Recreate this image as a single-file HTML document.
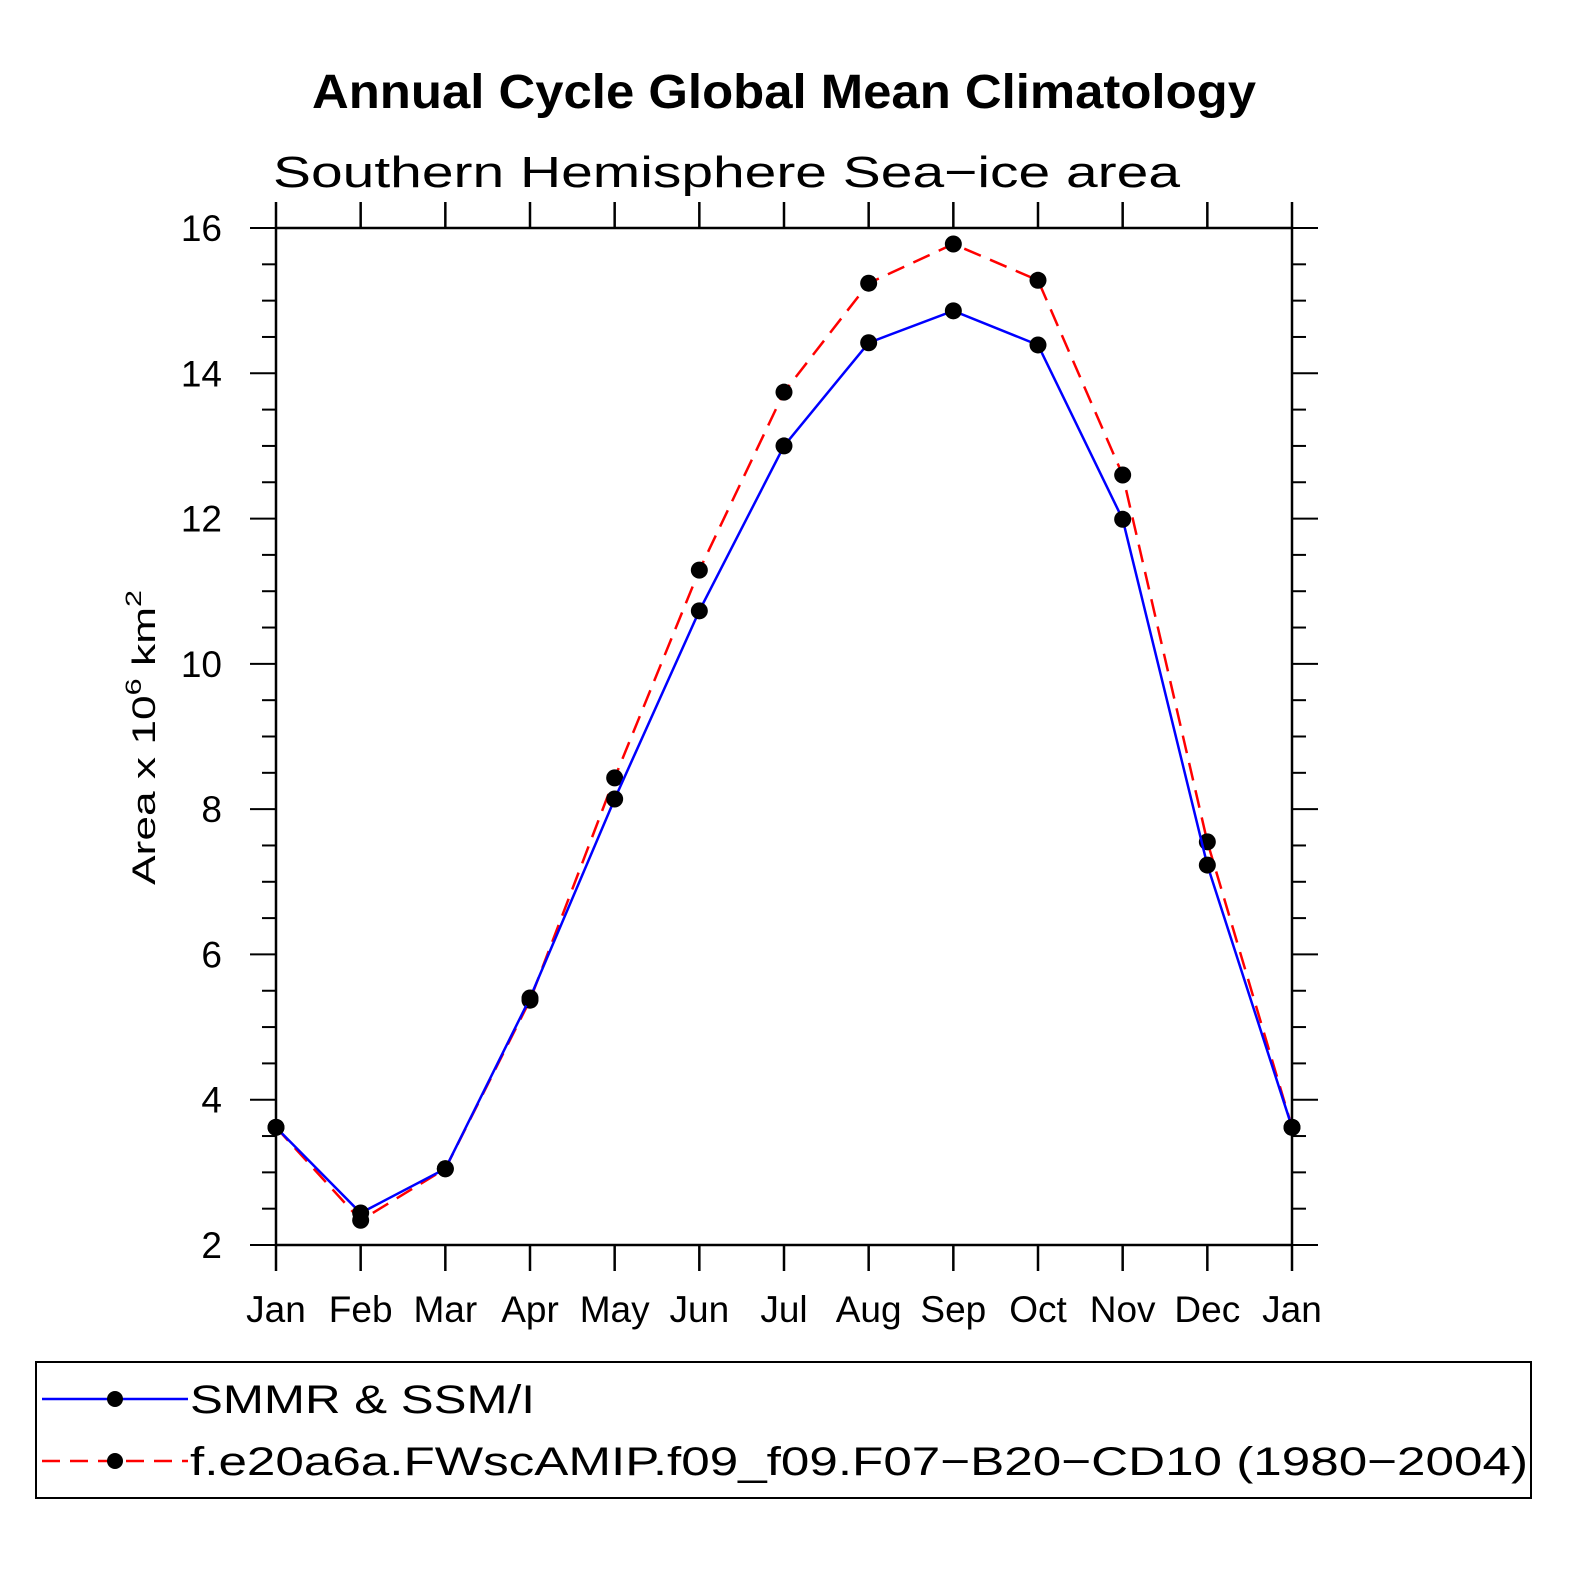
<!DOCTYPE html>
<html><head><meta charset="utf-8"><style>
body{margin:0;background:#fff}
svg{display:block}
text{font-family:"Liberation Sans",sans-serif}
</style></head><body>
<svg id="chart" width="1574" height="1574" viewBox="0 0 1574 1574">
<text x="312" y="108" font-size="48" font-weight="bold" textLength="944" lengthAdjust="spacingAndGlyphs">Annual Cycle Global Mean Climatology</text>
<text x="273" y="187" font-size="44" textLength="907" lengthAdjust="spacingAndGlyphs">Southern Hemisphere Sea−ice area</text>
<text transform="translate(155,885) rotate(-90)" font-size="32" textLength="295" lengthAdjust="spacingAndGlyphs">Area x 10<tspan dy="-14" font-size="22">6</tspan><tspan dy="14"> km</tspan><tspan dy="-14" font-size="22">2</tspan></text>
<g id="axes"></g>
<g id="series"></g>
<rect x="36" y="1362" width="1495" height="136" fill="none" stroke="#000" stroke-width="2"/>
<g>
<line x1="42" y1="1399" x2="188" y2="1399" stroke="#0000ff" stroke-width="2.5"/>
<circle cx="115" cy="1399" r="8"/>
<text x="190" y="1413" font-size="40" textLength="345" lengthAdjust="spacingAndGlyphs">SMMR &amp; SSM/I</text></g>
<g>
<line x1="42" y1="1461" x2="188" y2="1461" stroke="#ff0000" stroke-width="2.5" stroke-dasharray="18,10"/>
<circle cx="115" cy="1461" r="8"/>
<text x="190" y="1475" font-size="40" textLength="1338" lengthAdjust="spacingAndGlyphs">f.e20a6a.FWscAMIP.f09_f09.F07−B20−CD10 (1980−2004)</text></g>
</svg>
<script>
const months=["Jan","Feb","Mar","Apr","May","Jun","Jul","Aug","Sep","Oct","Nov","Dec","Jan"];
const obsValues=[3.62,2.44,3.05,5.40,8.14,10.73,13.0,14.42,14.86,14.39,11.99,7.23,3.62];
const modelValues=[3.62,2.34,3.05,5.37,8.43,11.29,13.74,15.24,15.78,15.28,12.6,7.55,3.62];
const yTicks=[2,4,6,8,10,12,14,16];
const X0=276,X1=1292,Y0=1245,Y1=228,YMIN=2,YMAX=16;
const xs=i=>X0+(X1-X0)*i/(months.length-1);
const ys=v=>Y0-(v-YMIN)/(YMAX-YMIN)*(Y0-Y1);
const NS="http://www.w3.org/2000/svg";
function mk(tag,attrs,parent){const e=document.createElementNS(NS,tag);for(const k in attrs)e.setAttribute(k,attrs[k]);parent.appendChild(e);return e;}
const ax=document.getElementById('axes');
const frame=mk('rect',{x:X0,y:Y1,width:X1-X0,height:Y0-Y1,fill:'none',stroke:'#000','stroke-width':2.5},ax);


months.forEach((m,i)=>{
  const x=xs(i);
  mk('line',{x1:x,y1:Y0,x2:x,y2:Y0+26,stroke:'#000','stroke-width':2.5},ax);
  mk('line',{x1:x,y1:Y1,x2:x,y2:Y1-26,stroke:'#000','stroke-width':2.5},ax);
  const t=mk('text',{x:x,y:1322,'text-anchor':'middle','font-size':37},ax);
  t.textContent=m;
  
  
});
for(let v=YMIN;v<=YMAX+0.001;v+=0.5){
  const y=ys(v),maj=Math.abs(v%2)<0.001,L=maj?26:14;
  mk('line',{x1:X0,y1:y,x2:X0-L,y2:y,stroke:'#000','stroke-width':2},ax);
  mk('line',{x1:X1,y1:y,x2:X1+L,y2:y,stroke:'#000','stroke-width':2},ax);
}
yTicks.forEach(v=>{
  const t=mk('text',{x:222,y:ys(v)+13,'text-anchor':'end','font-size':37},ax);
  t.textContent=v;
  
  
});
const sg=document.getElementById('series');
function series(vals,color,dash,name){
  const g=mk('g',{},sg);
  
  
  const pts=vals.map((v,i)=>xs(i)+','+ys(v)).join(' ');
  const a={points:pts,fill:'none',stroke:color,'stroke-width':2.5};
  if(dash)a['stroke-dasharray']=dash;
  mk('polyline',a,g);
  vals.forEach((v,i)=>{
    const c=mk('circle',{cx:xs(i),cy:ys(v),r:8.5},g);
    
    
  });
}
series(modelValues,'#ff0000','18,10','model-series');
series(obsValues,'#0000ff',null,'obs-series');
</script>
</body></html>
